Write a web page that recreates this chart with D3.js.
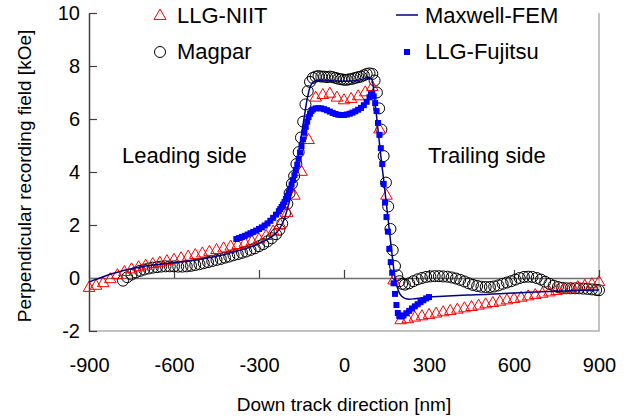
<!DOCTYPE html>
<html>
<head>
<meta charset="utf-8">
<script src="https://cdn.jsdelivr.net/npm/d3@7"></script>
<style>
  body { margin: 0; background: #fff; }
  .js-chart svg { display: block; }
  text { font-family: "Liberation Sans", Arial, sans-serif; fill: #000; }
</style>
</head>
<body>
<div class="js-chart"></div>
<script>
// Values: [down track position nm, field kOe]
var llgNiit = [
  [-900,-0.38],[-875,-0.3],[-850,-0.2],[-825,-0.05],[-800,0.1],[-775,0.22],[-750,0.32],[-725,0.4],
  [-700,0.46],[-675,0.52],[-650,0.57],[-625,0.63],[-600,0.68],[-575,0.74],[-550,0.8],[-525,0.86],
  [-500,0.92],[-475,0.98],[-450,1.05],[-425,1.11],[-400,1.18],[-375,1.24],[-350,1.3],[-325,1.37],
  [-300,1.45],[-275,1.58],[-250,1.75],[-225,2.0],[-200,2.45],[-175,3.1],[-150,4.0],[-125,5.2],
  [-100,6.8],[-75,6.9],[-50,6.95],[-25,6.8],[0,6.7],[25,6.75],[50,6.85],[75,7.0],
  [100,7.2],[125,5.6],[150,3.1],[175,-0.1],[200,-1.6],[225,-1.56],[250,-1.5],[275,-1.45],
  [300,-1.4],[325,-1.35],[350,-1.3],[375,-1.25],[400,-1.2],[425,-1.15],[450,-1.1],[475,-1.05],
  [500,-1.0],[525,-0.95],[550,-0.9],[575,-0.85],[600,-0.8],[625,-0.75],[650,-0.7],[675,-0.65],
  [700,-0.6],[725,-0.55],[750,-0.5],[775,-0.45],[800,-0.4],[825,-0.35],[850,-0.3],[875,-0.24],
  [900,-0.16]
];

var magpar = [
  [-780,-0.1],[-765,0.03],[-750,0.13],[-735,0.21],[-720,0.27],[-705,0.32],[-690,0.36],[-675,0.39],
  [-660,0.41],[-645,0.43],[-630,0.44],[-615,0.44],[-600,0.44],[-585,0.43],[-570,0.43],[-555,0.44],
  [-540,0.46],[-525,0.49],[-510,0.52],[-495,0.56],[-480,0.6],[-465,0.64],[-450,0.68],[-435,0.72],
  [-420,0.77],[-405,0.81],[-390,0.86],[-375,0.9],[-360,0.95],[-345,1.0],[-330,1.06],[-315,1.12],
  [-300,1.2],[-285,1.28],[-270,1.38],[-255,1.5],[-240,1.65],[-228,1.82],[-218,2.05],[-208,2.45],
  [-200,2.8],[-192,3.2],[-184,3.55],[-176,3.85],[-168,4.3],[-160,4.75],[-152,5.3],[-144,5.9],
  [-136,6.55],[-128,7.05],[-120,7.4],[-110,7.55],[-100,7.6],[-90,7.62],[-80,7.6],[-70,7.6],
  [-60,7.58],[-50,7.6],[-40,7.58],[-30,7.55],[-20,7.52],[-10,7.5],[0,7.48],[10,7.48],
  [20,7.5],[30,7.52],[40,7.55],[50,7.58],[60,7.6],[70,7.65],[80,7.7],[90,7.72],
  [100,7.7],[108,7.45],[116,7.0],[124,6.4],[132,5.6],[140,4.6],[148,3.6],[156,2.7],
  [164,1.85],[172,1.05],[180,0.45],[188,0.1],[196,-0.12],[205,-0.22],[215,-0.25],[230,-0.2],
  [245,-0.12],[260,-0.05],[275,0.0],[290,0.04],[305,0.06],[320,0.07],[335,0.07],[350,0.06],
  [365,0.05],[380,0.02],[395,-0.02],[410,-0.07],[425,-0.13],[440,-0.2],[455,-0.26],[470,-0.3],
  [485,-0.33],[500,-0.34],[515,-0.34],[530,-0.32],[545,-0.28],[560,-0.22],[575,-0.17],[590,-0.12],
  [605,-0.06],[620,0.0],[635,0.04],[650,0.05],[665,0.04],[680,0.0],[695,-0.06],[710,-0.14],
  [725,-0.22],[740,-0.29],[755,-0.34],[770,-0.37],[785,-0.39],[800,-0.39],[815,-0.39],[830,-0.39],
  [845,-0.4],[860,-0.41],[875,-0.43],[890,-0.45],[900,-0.46]
];

var maxwellFem = [
  [-900,-0.15],[-875,-0.05],[-850,0.05],[-825,0.14],[-800,0.22],[-775,0.29],[-750,0.35],[-725,0.4],
  [-700,0.45],[-675,0.49],[-650,0.52],[-625,0.55],[-600,0.58],[-575,0.61],[-550,0.64],[-525,0.68],
  [-500,0.72],[-475,0.77],[-450,0.82],[-425,0.88],[-400,0.95],[-375,1.02],[-350,1.1],[-325,1.19],
  [-300,1.3],[-275,1.43],[-250,1.6],[-235,1.75],[-220,2.0],[-210,2.25],[-200,2.6],[-190,3.0],
  [-180,3.5],[-170,4.1],[-160,4.7],[-150,5.4],[-140,6.1],[-130,6.75],[-120,7.2],[-110,7.38],
  [-100,7.45],[-75,7.47],[-50,7.45],[-25,7.43],[0,7.42],[25,7.43],[50,7.46],[70,7.52],
  [85,7.57],[95,7.55],[100,7.45],[110,6.6],[120,5.6],[130,4.6],[140,3.7],[150,2.75],
  [160,1.8],[170,0.85],[180,0.0],[188,-0.35],[196,-0.58],[205,-0.7],[215,-0.77],[230,-0.8],
  [250,-0.78],[275,-0.75],[300,-0.72],[350,-0.69],[400,-0.66],[450,-0.64],[500,-0.62],[550,-0.59],
  [600,-0.57],[650,-0.54],[700,-0.52],[750,-0.5],[800,-0.48],[850,-0.46],[900,-0.45]
];

var llgFujitsu = [
  [-380,1.47],[-370,1.51],[-360,1.55],[-350,1.59],[-340,1.64],[-330,1.69],[-320,1.74],[-310,1.79],
  [-300,1.85],[-290,1.91],[-280,1.98],[-270,2.06],[-260,2.16],[-250,2.27],[-240,2.39],[-230,2.52],
  [-225,2.6],[-220,2.68],[-215,2.77],[-210,2.87],[-205,2.98],[-200,3.1],[-195,3.23],[-190,3.37],
  [-185,3.53],[-180,3.7],[-175,3.88],[-170,4.08],[-165,4.28],[-160,4.5],[-155,4.74],[-150,4.98],
  [-145,5.23],[-140,5.48],[-135,5.7],[-130,5.9],[-125,6.07],[-120,6.2],[-115,6.3],[-110,6.36],
  [-100,6.4],[-90,6.41],[-80,6.4],[-70,6.37],[-60,6.33],[-50,6.28],[-40,6.23],[-30,6.19],
  [-20,6.16],[-10,6.15],[0,6.15],[10,6.17],[20,6.2],[30,6.24],[40,6.29],[50,6.35],
  [60,6.42],[70,6.52],[80,6.65],[90,6.82],[95,6.92],[100,6.95],[105,6.85],[110,6.6],
  [115,6.3],[120,5.85],[125,5.4],[130,4.9],[135,4.3],[140,3.55],[145,2.85],[150,2.3],
  [155,1.75],[160,1.1],[165,0.6],[170,0.2],[175,-0.2],[180,-0.6],[185,-1.02],[190,-1.32],
  [195,-1.43],[200,-1.45],[205,-1.44],[210,-1.41],[220,-1.33],[230,-1.24],[240,-1.15],[250,-1.07],
  [260,-0.99],[270,-0.91],[280,-0.84],[290,-0.77],[300,-0.72]
];

var xTicks = [-900, -600, -300, 0, 300, 600, 900];
var yTicks = [-2, 0, 2, 4, 6, 8, 10];

var chart = (function () {
  "use strict";

  var publicAPIs = {};
  var svg = null;
  var x = null;
  var y = null;

  // plain hyphen for negative numbers, like the original
  var plain = function (d) { return String(d); };

  publicAPIs.init = function (selector) {
    svg = d3.select(selector).append("svg")
      .attr("width", 642)
      .attr("height", 418);

    x = d3.scaleLinear().domain([-900, 900]).range([89, 599]);
    y = d3.scaleLinear().domain([-2, 10]).range([331, 13]);

    drawFrame();
    drawSeries();
    drawLegend();
    drawText();
  };

  /**
   * Plot border, left axis, zero line with its ticks, tick labels.
   */
  var drawFrame = function () {
    // right and bottom edges of the plot area
    svg.append("path")
      .attr("d", "M" + x(900) + "," + y(10) + "V" + y(-2) + "H" + x(-900))
      .attr("fill", "none")
      .attr("stroke", "#b0b0b0")
      .attr("stroke-width", 1.5);

    var yAxis = svg.append("g")
      .attr("transform", "translate(" + x(-900) + ",0)")
      .call(d3.axisLeft(y).tickValues(yTicks).tickFormat(plain)
        .tickSizeInner(-8).tickSizeOuter(0).tickPadding(9));
    yAxis.select(".domain").attr("stroke", "#404040").attr("stroke-width", 1.5);
    yAxis.selectAll(".tick line").attr("stroke", "#404040").attr("stroke-width", 1.2);
    yAxis.selectAll("text").style("font-size", "20px").attr("fill", "#000");

    var zeroAxis = svg.append("g")
      .attr("transform", "translate(0," + y(0) + ")")
      .call(d3.axisBottom(x).tickValues(xTicks).tickSizeInner(-8).tickSizeOuter(0).tickFormat(""));
    zeroAxis.select(".domain").attr("stroke", "#707070").attr("stroke-width", 1.5);
    zeroAxis.selectAll(".tick line").attr("stroke", "#404040").attr("stroke-width", 1.2);

    var xLabels = svg.append("g")
      .attr("transform", "translate(0," + y(-2) + ")")
      .call(d3.axisBottom(x).tickValues(xTicks).tickFormat(plain).tickSize(0).tickPadding(27));
    xLabels.select(".domain").remove();
    xLabels.selectAll("text").style("font-size", "20px").attr("fill", "#000");
  };

  var drawSeries = function () {
    svg.append("g").selectAll("circle")
      .data(magpar)
      .enter().append("circle")
        .attr("cx", function (d) { return x(d[0]); })
        .attr("cy", function (d) { return y(d[1]); })
        .attr("r", 5.5)
        .attr("fill", "none")
        .attr("stroke", "#000")
        .attr("stroke-width", 1);

    var tri = d3.symbol().type(d3.symbolTriangle).size(58);
    svg.append("g").selectAll("path")
      .data(llgNiit)
      .enter().append("path")
        .attr("d", tri)
        .attr("transform", function (d) { return "translate(" + x(d[0]) + "," + y(d[1]) + ")"; })
        .attr("fill", "none")
        .attr("stroke", "#ff0000")
        .attr("stroke-width", 1);

    var line = d3.line()
      .x(function (d) { return x(d[0]); })
      .y(function (d) { return y(d[1]); })
      .curve(d3.curveMonotoneX);
    svg.append("path")
      .datum(maxwellFem)
      .attr("d", line)
      .attr("fill", "none")
      .attr("stroke", "#000080")
      .attr("stroke-width", 1.5);

    svg.append("g").selectAll("rect")
      .data(llgFujitsu)
      .enter().append("rect")
        .attr("x", function (d) { return x(d[0]) - 3; })
        .attr("y", function (d) { return y(d[1]) - 3; })
        .attr("width", 6)
        .attr("height", 6)
        .attr("fill", "#0000ff");
  };

  var drawLegend = function () {
    var g = svg.append("g").style("font-size", "22px");

    g.append("path")
      .attr("d", d3.symbol().type(d3.symbolTriangle).size(62))
      .attr("transform", "translate(160,16)")
      .attr("fill", "none").attr("stroke", "#ff0000");
    g.append("text").attr("x", 177).attr("y", 23).text("LLG-NIIT");

    g.append("circle").attr("cx", 160).attr("cy", 52).attr("r", 5.5)
      .attr("fill", "none").attr("stroke", "#000");
    g.append("text").attr("x", 177).attr("y", 59).text("Magpar");

    g.append("line").attr("x1", 396).attr("x2", 418).attr("y1", 15).attr("y2", 15)
      .attr("stroke", "#000080").attr("stroke-width", 1.5);
    g.append("text").attr("x", 425).attr("y", 23).text("Maxwell-FEM");

    g.append("rect").attr("x", 404).attr("y", 49).attr("width", 6).attr("height", 6)
      .attr("fill", "#0000ff");
    g.append("text").attr("x", 425).attr("y", 59).text("LLG-Fujitsu");
  };

  var drawText = function () {
    svg.append("text").attr("x", 122).attr("y", 163)
      .style("font-size", "22px").text("Leading side");
    svg.append("text").attr("x", 428).attr("y", 163)
      .style("font-size", "22px").text("Trailing side");

    svg.append("text")
      .attr("x", 344).attr("y", 411)
      .attr("text-anchor", "middle")
      .style("font-size", "19px")
      .text("Down track direction [nm]");

    svg.append("text")
      .attr("transform", "translate(31,176) rotate(-90)")
      .attr("text-anchor", "middle")
      .style("font-size", "19px")
      .text("Perpendicular recording field [kOe]");
  };

  return publicAPIs;
})();

if (d3 && document.querySelectorAll(".js-chart").length) {
  chart.init(".js-chart");
}
</script>
</body>
</html>
